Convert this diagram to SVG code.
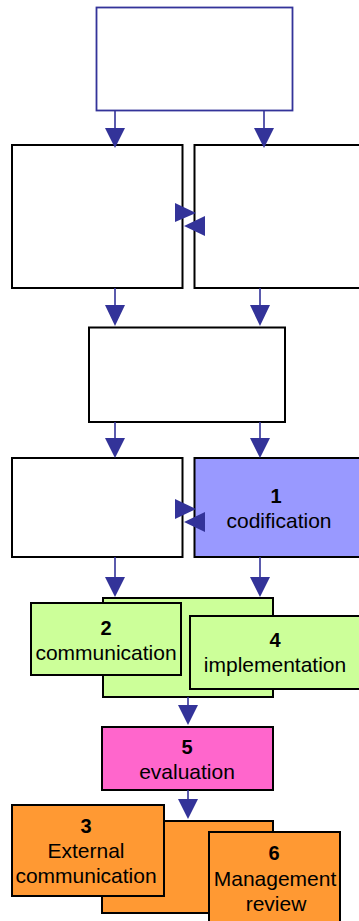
<svg xmlns="http://www.w3.org/2000/svg" width="359" height="921" viewBox="0 0 359 921">
<style>
.box{stroke:#000;stroke-width:2}
.w{fill:#fff}
.blue{fill:#9999FF}
.green{fill:#CCFF99}
.pink{fill:#FF66CC}
.orange{fill:#FF9933}
.ln{stroke:#333399;stroke-width:1.6;fill:none}
.hd{fill:#333399}
text{font-family:"Liberation Sans",Arial,sans-serif;fill:#000;text-anchor:middle}
.n{font-size:20px;font-weight:bold}
.t{font-size:21px}
</style>
<rect width="359" height="921" fill="#fff"/>
<g id="top"><rect x="96.5" y="7.5" width="196" height="103" fill="#fff" stroke="#333399" stroke-width="1.8"/></g>
<g id="r2left"><rect class="box w" x="12" y="145" width="170.5" height="143"/></g>
<g id="r2right"><rect class="box w" x="194.5" y="145" width="170" height="143"/></g>
<g id="middle"><rect class="box w" x="89" y="327.5" width="196" height="94.5"/></g>
<g id="r4left"><rect class="box w" x="12" y="458" width="170.5" height="99"/></g>
<g id="n1"><rect class="box blue" x="194.5" y="458" width="170" height="99"/>
<text class="n" x="276" y="503">1</text><text class="t" x="279" y="528">codification</text></g>
<g id="greenback"><rect class="box green" x="103" y="598" width="170" height="99"/></g>
<g id="n2"><rect class="box green" x="31" y="603" width="150" height="72"/>
<text class="n" x="106" y="635">2</text><text class="t" x="106" y="660">communication</text></g>
<g id="n4"><rect class="box green" x="190" y="616" width="175" height="73"/>
<text class="n" x="275" y="647">4</text><text class="t" x="275" y="672">implementation</text></g>
<g id="n5"><rect class="box pink" x="102" y="727" width="171" height="63"/>
<text class="n" x="187" y="754">5</text><text class="t" x="187" y="779">evaluation</text></g>
<g id="orangeback"><rect class="box orange" x="102" y="821" width="171" height="92"/></g>
<g id="n3"><rect class="box orange" x="12" y="805" width="152" height="91"/>
<text class="n" x="86" y="833">3</text><text class="t" x="86" y="858">External</text><text class="t" x="86" y="883">communication</text></g>
<g id="n6"><rect class="box orange" x="209" y="832" width="131" height="95"/>
<text class="n" x="274" y="860">6</text><text class="t" x="275" y="886">Management</text><text class="t" x="276" y="911">review</text></g>
<g id="connectors">
<path class="ln" d="M115 111V130M264 111V130M115 288V307M260 288V307M115 422V440M260 422V440M115 557V579M260 557V579M188 697V707M188 790V801M182 213H192M194 226H188M182 509H192M194 522H188"/>
<path class="hd" d="M105 128H125L115 148ZM254 128H274L264 148ZM105 305H125L115 326ZM250 305H270L260 326ZM105 438H125L115 458ZM250 438H270L260 458ZM105 577H125L115 597ZM250 577H270L260 597ZM178 705H198L188 725ZM178 799H198L188 819Z"/>
<path class="hd" d="M175 203V222L196 213ZM205 216V236L184 226ZM175 499V519L196 509ZM205 512V532L184 522Z"/>
</g>
</svg>
